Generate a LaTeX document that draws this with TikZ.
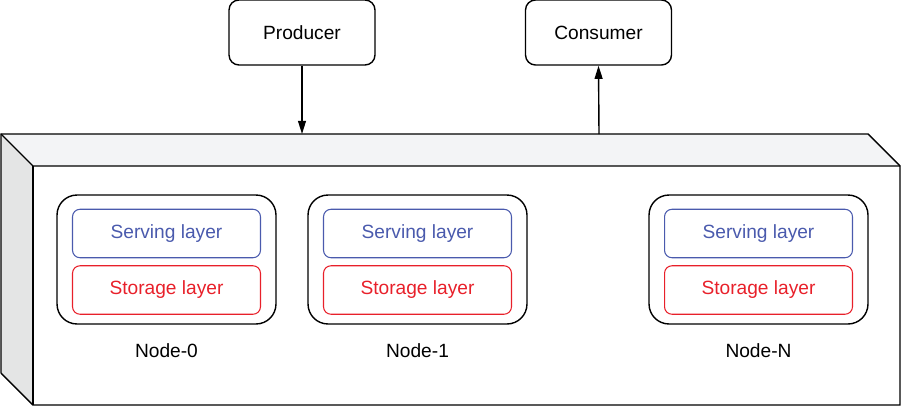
\documentclass[tikz,border=0pt]{standalone}
\usepackage{fontspec}
\setmainfont{Liberation Sans}
\usetikzlibrary{arrows.meta}
\definecolor{servblue}{HTML}{4A5AAD}
\definecolor{storred}{HTML}{E8202A}
\definecolor{topgray}{HTML}{F3F4F6}
\definecolor{sidegray}{HTML}{E4E5E5}
\tikzset{
  client/.style={draw, line width=0.8pt, rounded corners=0.2cm, minimum width=2.92cm, minimum height=1.3cm},
  machine/.style={draw, line width=0.8pt, rounded corners=0.4cm, minimum width=4.38cm, minimum height=2.58cm},
  layer/.style={draw, line width=0.6pt, rounded corners=0.15cm, minimum width=3.76cm, minimum height=0.97cm},
  flow/.style={line width=0.8pt, -{Triangle[width=4.5pt,length=7.5pt]}}
}
\begin{document}
\begin{tikzpicture}[x=0.02cm,y=-0.02cm,font=\fontsize{10.9}{13}\selectfont]
        \useasboundingbox (0,0) rectangle (901,406);
        % the cluster box
        \coordinate (A) at (1,134);
        \coordinate (B) at (868,134);
        \coordinate (C) at (900,166);
        \coordinate (D) at (33,166);
        \coordinate (E) at (33,405);
        \coordinate (F) at (1,373);
        \coordinate (G) at (900,405);
        \fill[topgray] (A) -- (B) -- (C) -- (D) -- cycle ;
        \fill[sidegray] (A) -- (D) -- (E) -- (F) -- cycle ;
        \draw[line width=0.8pt, line join=miter] (F) -- (A) -- (B) -- (C) -- (G) -- (E) -- (F) ;
        \draw[line width=0.8pt] (A) -- (D) -- (C) ;
        \draw[line width=0.8pt] (D) -- (E) ;

        \node[client] (producer) at (302,32.5) {Producer};
        \node[client] (consumer) at (598.5,32.5) {Consumer};
        \coordinate (in) at (302,134);
        \coordinate (out) at (599,134);
        \draw[flow] (producer.south) -- (in) ;
        \draw[flow] (out) -- (consumer.south) ;

        \foreach \x/\n in {166.5/0, 417.5/1, 758.5/N} {
        \node[machine] (node\n) at (\x,259.5) {};
        \node[layer, servblue, text=servblue] (serving\n) at (\x,233.5) {Serving layer};
        \node[layer, storred, text=storred] (storage\n) at (\x,290) {Storage layer};
        \node (label\n) at (\x,351) {Node-\n};
        }
        \end{tikzpicture}
\end{document}
